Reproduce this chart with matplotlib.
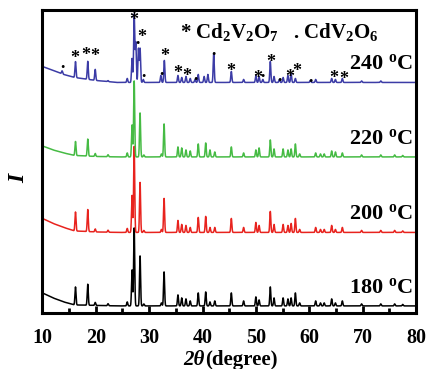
import matplotlib
matplotlib.use("Agg")
import matplotlib.pyplot as plt
from matplotlib.ticker import MultipleLocator
import numpy as np

plt.rcParams['font.family'] = ['Liberation Serif', 'DejaVu Serif']
plt.rcParams['font.weight'] = 'bold'
plt.rcParams['mathtext.fontset'] = 'custom'
plt.rcParams['mathtext.rm'] = 'Liberation Serif:weight=bold'
plt.rcParams['mathtext.it'] = 'Liberation Serif:style=italic:weight=bold'
plt.rcParams['mathtext.bf'] = 'Liberation Serif:weight=bold'

# peak positions (2theta) and heights
pos_180 = [16.2, 18.5, 19.9, 22.3, 25.9, 26.8, 27.2, 28.3, 29.0, 32.3, 32.8,
           35.4, 36.1, 36.9, 37.7, 39.2, 40.6, 41.4, 42.3, 45.4, 47.7, 50.0,
           50.6, 52.7, 53.4, 55.1, 56.0, 56.6, 57.4, 58.2, 61.2, 62.1, 62.8,
           64.2, 64.9, 66.2, 69.8, 73.4, 76.0, 77.5]
h_180 = [18, 21, 3, 2, 4, 36, 78, 50, 2, 3, 34,
         11, 8, 7, 5, 13, 14, 4, 5, 13, 5, 9,
         6, 19, 8, 8, 7, 8, 13, 3, 5, 3, 3,
         7, 3, 5, 2, 2, 2, 1.5]
h_200 = [19, 22, 3, 2, 4, 37, 86, 50, 2, 3, 34,
         12, 8, 7, 5, 15, 16, 5, 5, 14, 5, 10,
         7, 21, 8, 8, 7, 9, 14, 3, 5, 3, 3,
         7, 3, 5, 2, 2, 2, 1.5]
h_220 = [14, 17, 3, 2, 4, 32, 76, 44, 2, 3, 33,
         10, 9, 7, 6, 13, 14, 7, 5, 10, 4, 7,
         9, 17, 8, 8, 7, 8, 13, 3, 4, 3, 3,
         6, 5, 4, 2, 2, 2, 1.5]

pos_240 = [13.7, 16.2, 18.5, 19.9, 22.3, 25.9, 26.8, 27.2, 27.5, 28.0, 28.3,
           28.9, 32.2, 32.85, 35.4, 36.1, 36.9, 37.7, 38.6, 39.2, 40.3, 41.0,
           42.1, 45.4, 47.7, 50.0, 50.6, 51.3, 52.7, 53.4, 54.4, 55.1, 56.0,
           56.6, 57.4, 60.2, 61.2, 64.2, 64.9, 66.2, 69.8, 73.4]
h_240 = [3, 16, 18, 11, 1, 4, 24, 68, 40, 34, 34,
         3, 7, 22, 7, 5, 6, 4, 3, 8, 6, 8,
         29, 11, 3, 7, 6, 3, 21, 6, 3, 5, 7,
         9, 4, 2, 3, 4, 3, 4, 1.5, 1.5]

# sloping background at low angle
bg_x = [10, 12, 14, 16, 20, 24, 80]
bg_180 = [13, 8, 4, 1, 0.5, 0, 0]
bg_200 = [14, 9, 5, 1.5, 0.5, 0, 0]
bg_220 = [11, 7, 4, 1.5, 0.5, 0, 0]
bg_240 = [16, 12, 8, 5, 2, 0, 0]

offsets = [7, 80.5, 156, 230.5]
labels = ['180', '200', '220', '240']
colors = ['black', '#e8231e', '#46bb44', '#3c3ca6']

star_x = [16.0, 18.1, 19.9, 27.2, 28.6, 32.85, 35.45, 37.0, 45.3, 50.3,
          52.7, 56.4, 57.6, 64.5, 66.4]
star_y = [254, 257, 256, 292, 275, 256, 239, 236, 241, 234,
          250, 235, 241, 234, 233]
dot_x = [13.7, 27.8, 28.9, 32.3, 38.6, 42.1, 51.3, 54.4, 60.2]
dot_y = [245, 269, 236, 238, 233, 258, 236, 232, 231]

x = np.arange(10, 80.005, 0.01)


def pattern(pos, h, bg):
    y = np.interp(x, bg_x, bg)
    for p, a in zip(pos, h):
        y = y + a * np.exp(-0.5 * ((x - p) / 0.1) ** 2)
    return y


series = [(pos_180, h_180, bg_180), (pos_180, h_200, bg_200),
          (pos_180, h_220, bg_220), (pos_240, h_240, bg_240)]

fig = plt.figure(figsize=(4.28, 3.69), dpi=100)
ax = fig.add_axes([0.099, 0.152, 0.873, 0.821])

for (p, h, b), off, c, lab in zip(series, offsets, colors, labels):
    ax.plot(x, pattern(p, h, b) + off, color=c, lw=1.1)
    ax.text(79.4, off + 18, lab + r' $^{\mathrm{o}}$C', ha='right', va='center',
            fontsize=16, fontweight='bold')

for sx, sy in zip(star_x, star_y):
    ax.text(sx, sy, '*', ha='center', va='center', fontsize=13, fontweight='bold')
for dx, dy in zip(dot_x, dot_y):
    ax.text(dx, dy, '.', ha='center', va='baseline', fontsize=13, fontweight='bold')

ax.text(35.8, 281, r'* Cd$_2$V$_2$O$_7$   . CdV$_2$O$_6$', ha='left', va='center',
        fontsize=15, fontweight='bold')

ax.set_xlim(10, 80)
ax.set_ylim(0, 303)
ax.set_yticks([])
ax.xaxis.set_major_locator(MultipleLocator(10))
ax.xaxis.set_minor_locator(MultipleLocator(5))
ax.tick_params(axis='x', which='major', direction='in', length=5, width=2,
               labelsize=14.5, pad=11)
ax.tick_params(axis='x', which='minor', direction='in', length=3.5, width=2)
for s in ax.spines.values():
    s.set_linewidth(2.2)

# x label: italic 2θ followed by upright (degree)
fig.text(0.479, 0.010, '2\u03b8', ha='right', va='baseline', fontsize=15,
         fontweight='bold', style='italic')
fig.text(0.479, 0.010, '(degree)', ha='left', va='baseline', fontsize=15,
         fontweight='bold')
ax.set_ylabel('I', fontsize=17, fontweight='bold', style='italic')
ax.yaxis.set_label_coords(-0.034, 0.445)

fig.savefig('out.png', dpi=100)
